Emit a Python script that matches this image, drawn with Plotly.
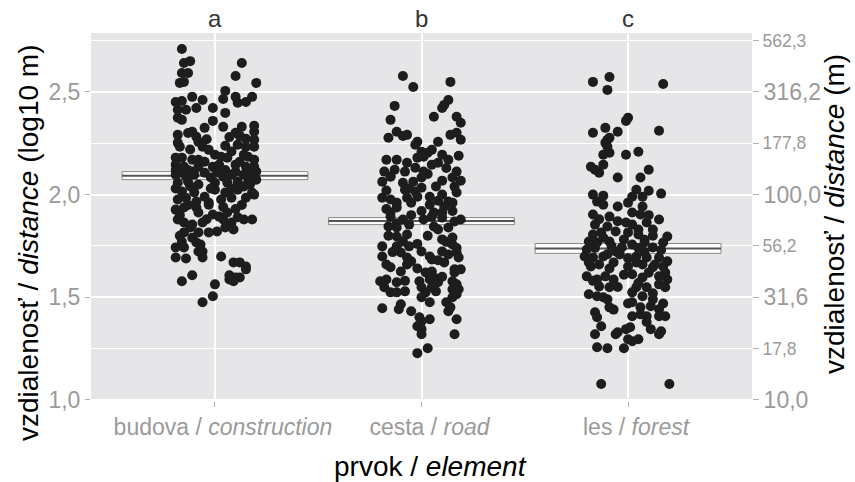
import plotly.graph_objects as go

# ---------------- data ----------------
categories = ["budova / <i>construction</i>", "cesta / <i>road</i>", "les / <i>forest</i>"]
group_letters = ["a", "b", "c"]

# summary crossbars (log10 m)
box_mean = [2.092, 1.871, 1.738]
box_low = [2.073, 1.854, 1.714]
box_high = [2.112, 1.888, 1.762]

left_ticks = [1.0, 1.5, 2.0, 2.5]
left_ticktext = ["1,0", "1,5", "2,0", "2,5"]
right_major = [1.0, 1.5, 2.0, 2.5]
right_minor = [1.25, 1.75, 2.25, 2.75]

# jittered observations: horizontal jitter (category units) and log10 distance
a_jit = [-0.16,-0.15,-0.12,-0.16,-0.13,-0.17,-0.15,0.13,0.10,0.20,
         0.05,0.04,0.10,0.11,0.15,0.18,-0.19,-0.16,-0.11,-0.06,
         -0.18,-0.14,-0.09,-0.01,0.05,-0.18,-0.16,-0.01,-0.05,0.04,
         0.13,0.19,0.19,-0.18,-0.11,-0.09,0.10,0.12,0.15,0.19,
         -0.18,-0.17,-0.08,-0.06,0.05,0.11,0.15,0.19,-0.03,0.00,
         0.03,0.06,-0.19,-0.16,-0.11,-0.08,0.14,0.16,0.19,-0.19,
         -0.15,-0.08,-0.01,0.02,0.10,0.15,0.19,-0.17,-0.11,-0.05,
         0.01,0.10,0.16,0.20,-0.19,-0.14,-0.10,-0.02,0.04,0.08,
         0.14,0.19,-0.18,-0.13,-0.08,0.00,0.06,0.11,0.16,0.20,
         -0.16,-0.10,0.00,0.05,0.11,0.18,-0.18,-0.14,-0.09,-0.03,
         0.03,0.08,0.15,0.19,-0.19,-0.15,-0.09,-0.03,-0.08,-0.01,
         0.02,0.06,-0.18,-0.15,-0.11,-0.06,0.04,0.08,0.14,0.18,
         -0.15,-0.08,-0.03,0.01,0.09,-0.09,-0.07,-0.19,-0.15,-0.08,
         -0.06,-0.19,-0.14,-0.06,0.03,0.09,0.12,0.15,0.15,0.07,
         0.10,0.12,0.07,-0.11,-0.16,0.00,-0.01,-0.06,0.09,
         -0.13,-0.04,0.07,-0.12,0.08,-0.05,0.12,-0.13,0.05,-0.02,
         0.14,-0.12,0.08,-0.05,0.13,-0.13,0.04,0.10,-0.17,-0.04,
         0.11,-0.12,0.05,-0.17,-0.11,-0.16,0.16,0.17,-0.19,-0.19]
a_val = [2.709,2.641,2.650,2.592,2.592,2.544,2.549,2.641,2.578,2.544,
         2.505,2.466,2.476,2.447,2.451,2.476,2.451,2.456,2.476,2.461,
         2.413,2.413,2.422,2.422,2.398,2.374,2.364,2.359,2.325,2.330,
         2.330,2.335,2.306,2.291,2.306,2.282,2.301,2.286,2.272,2.267,
         2.252,2.233,2.257,2.233,2.238,2.243,2.233,2.233,2.218,2.194,
         2.184,2.180,2.180,2.180,2.170,2.170,2.194,2.184,2.170,2.146,
         2.136,2.136,2.136,2.146,2.146,2.136,2.136,2.107,2.112,2.107,
         2.107,2.112,2.107,2.112,2.097,2.087,2.097,2.083,2.087,2.097,
         2.097,2.083,2.058,2.063,2.049,2.058,2.058,2.063,2.058,2.073,
         2.015,2.010,2.024,2.010,2.024,2.010,1.976,1.985,1.966,1.961,
         1.976,1.985,1.985,2.000,1.927,1.937,1.937,1.951,1.913,1.903,
         1.893,1.913,1.879,1.864,1.854,1.864,1.879,1.864,1.879,1.879,
         1.816,1.816,1.816,1.820,1.830,1.767,1.757,1.743,1.743,1.723,
         1.723,1.694,1.689,1.694,1.699,1.670,1.670,1.650,1.636,1.607,
         1.597,1.597,1.587,1.607,1.578,1.563,1.505,1.476,1.578,
         2.300,2.270,2.280,2.220,2.210,2.160,2.160,2.120,2.120,2.030,
         2.040,2.040,2.030,1.990,1.950,1.950,1.940,1.930,1.900,1.880,
         1.890,1.840,1.840,1.800,1.790,1.770,2.100,2.050,2.030,2.120]

b_jit = [-0.09,-0.04,0.14,-0.13,0.11,0.13,0.10,0.06,0.17,0.19,
         -0.15,-0.12,-0.09,-0.07,-0.16,0.14,0.17,0.19,-0.02,-0.03,
         0.08,0.05,0.00,0.03,-0.17,-0.12,-0.07,-0.02,0.01,0.10,
         0.13,0.18,-0.18,-0.13,-0.08,-0.03,0.01,0.05,0.08,0.17,
         -0.19,-0.15,-0.09,-0.04,0.00,0.10,0.15,0.19,-0.08,-0.03,
         0.00,0.16,-0.19,-0.15,-0.12,-0.07,0.04,0.10,0.13,0.15,
         -0.12,-0.05,0.04,0.11,-0.15,0.06,0.10,-0.15,-0.09,0.01,
         0.05,0.10,0.16,0.19,-0.16,-0.12,-0.06,0.06,0.13,-0.12,
         -0.07,-0.09,0.10,0.15,0.15,-0.19,-0.12,-0.06,0.10,0.13,
         0.17,0.00,0.04,-0.19,-0.10,-0.07,-0.05,0.05,0.18,-0.17,
         -0.15,-0.07,0.11,0.16,-0.10,0.02,0.05,0.06,0.16,0.19,
         -0.20,-0.17,-0.12,-0.01,0.04,0.08,0.15,0.17,-0.18,-0.15,
         -0.12,0.00,0.02,0.05,0.07,0.15,0.18,0.17,-0.08,0.15,
         0.00,0.04,-0.19,-0.10,-0.11,0.12,0.14,-0.05,0.13,-0.01,
         0.00,0.04,0.17,-0.02,0.00,0.16,0.00,-0.02,0.03,
         -0.15,0.03,0.12,-0.06,0.07,-0.17,0.17,-0.02,0.08,-0.17,
         0.00,0.15,-0.05,-0.12,0.08,0.03,-0.16,0.12,-0.02,0.17,
         -0.14,0.08,-0.02,0.10,-0.08]
b_val = [2.578,2.524,2.549,2.432,2.437,2.461,2.422,2.379,2.379,2.350,
         2.364,2.306,2.286,2.291,2.277,2.291,2.301,2.267,2.257,2.243,
         2.257,2.218,2.209,2.204,2.170,2.170,2.155,2.180,2.184,2.194,
         2.170,2.189,2.112,2.121,2.112,2.131,2.112,2.146,2.155,2.112,
         2.063,2.087,2.058,2.063,2.083,2.068,2.083,2.068,2.024,2.015,
         2.034,2.039,1.985,1.976,1.961,1.985,1.990,2.000,1.966,1.961,
         1.937,1.961,1.951,1.942,1.913,1.913,1.913,1.893,1.879,1.879,
         1.893,1.888,1.869,1.879,1.845,1.840,1.854,1.845,1.840,1.796,
         1.806,1.772,1.782,1.791,1.757,1.748,1.748,1.748,1.723,1.709,
         1.718,1.723,1.699,1.699,1.718,1.694,1.675,1.684,1.694,1.660,
         1.646,1.660,1.670,1.636,1.626,1.621,1.626,1.597,1.621,1.636,
         1.578,1.587,1.573,1.578,1.587,1.573,1.578,1.563,1.549,1.524,
         1.524,1.549,1.524,1.549,1.529,1.539,1.539,1.515,1.529,1.500,
         1.500,1.476,1.447,1.466,1.442,1.476,1.451,1.432,1.432,1.403,
         1.383,1.393,1.393,1.359,1.345,1.320,1.320,1.228,1.252,
         2.090,2.100,2.130,2.030,2.040,2.020,2.010,1.990,1.970,1.930,
         1.920,1.920,1.900,1.860,1.830,1.800,1.800,1.770,1.760,1.740,
         1.720,1.680,1.640,1.600,1.580]

c_jit = [-0.17,-0.09,-0.10,0.17,0.00,-0.01,-0.17,-0.11,-0.05,0.15,
         -0.10,-0.09,-0.11,-0.10,-0.12,-0.09,-0.01,0.05,-0.18,-0.16,
         -0.14,-0.12,-0.05,0.06,0.10,-0.17,-0.12,0.04,0.10,0.16,
         0.02,0.07,-0.15,-0.12,-0.05,0.00,0.07,-0.17,-0.09,0.02,
         0.06,0.15,-0.16,-0.10,-0.01,0.02,0.09,0.12,-0.17,-0.13,
         -0.06,0.00,0.05,0.19,-0.19,-0.15,-0.09,-0.02,0.02,0.08,
         0.17,-0.20,-0.06,-0.03,0.12,-0.21,-0.17,-0.12,-0.04,0.04,
         0.09,0.15,0.19,-0.18,-0.14,-0.07,0.00,0.07,0.12,0.17,
         -0.20,-0.15,-0.11,-0.07,0.02,0.07,0.15,0.19,-0.14,-0.09,
         0.04,0.09,0.15,0.18,-0.19,-0.15,-0.10,0.02,0.07,0.12,
         -0.09,0.02,0.06,0.11,0.15,-0.16,-0.15,0.02,0.06,0.09,
         0.15,0.18,-0.13,-0.01,0.01,-0.05,-0.06,0.11,0.16,-0.16,
         0.15,0.00,0.05,0.02,-0.15,-0.10,-0.02,-0.13,0.20,
         -0.14,0.10,-0.05,0.05,-0.12,0.12,0.08,-0.08,0.05,0.16,
         -0.16,-0.10,0.08,0.00,-0.19,0.04,0.13,-0.09,0.10,-0.02,
         0.18,-0.17,0.05,-0.05,0.12,-0.12,0.00,0.17,-0.07,0.09]
c_val = [2.549,2.573,2.510,2.539,2.374,2.359,2.301,2.325,2.306,2.311,
         2.267,2.277,2.252,2.233,2.194,2.204,2.194,2.209,2.136,2.121,
         2.107,2.146,2.083,2.083,2.121,2.000,1.995,2.024,2.019,2.005,
         1.990,1.990,1.966,1.951,1.942,1.961,1.942,1.903,1.893,1.913,
         1.903,1.879,1.854,1.845,1.864,1.854,1.864,1.830,1.806,1.816,
         1.820,1.816,1.806,1.796,1.772,1.767,1.772,1.782,1.757,1.767,
         1.767,1.733,1.723,1.743,1.743,1.699,1.694,1.699,1.709,1.699,
         1.694,1.694,1.675,1.650,1.660,1.670,1.650,1.660,1.646,1.650,
         1.602,1.587,1.602,1.587,1.612,1.597,1.602,1.587,1.553,1.549,
         1.549,1.549,1.563,1.549,1.515,1.505,1.490,1.524,1.505,1.490,
         1.451,1.476,1.451,1.456,1.442,1.427,1.403,1.408,1.417,1.408,
         1.408,1.408,1.359,1.345,1.354,1.330,1.320,1.345,1.335,1.320,
         1.320,1.296,1.296,1.286,1.257,1.252,1.252,1.078,1.078,
         1.880,1.900,1.870,1.830,1.790,1.800,1.780,1.750,1.740,1.730,
         1.740,1.710,1.720,1.690,1.670,1.670,1.660,1.640,1.620,1.610,
         1.620,1.580,1.570,1.550,1.520,1.500,1.470,1.470,1.440,1.380]

groups = [(a_jit, a_val), (b_jit, b_val), (c_jit, c_val)]

# ---------------- figure ----------------
FONT = "Liberation Sans, Arial, sans-serif"
TICK_GREY = "#9a9a9a"
positions = [1, 2, 3]
bar_width = 0.9
y_range = [0.995, 2.787]

fig = go.Figure()

# crossbar boxes
fig.add_trace(go.Bar(
    x=positions,
    y=[h - l for h, l in zip(box_high, box_low)],
    base=box_low,
    width=bar_width,
    marker=dict(color="white", line=dict(color="#8a8a8a", width=1)),
    hoverinfo="skip", showlegend=False,
))

# mean lines
mx, my = [], []
for p, m in zip(positions, box_mean):
    mx += [p - bar_width / 2, p + bar_width / 2, None]
    my += [m, m, None]
fig.add_trace(go.Scatter(x=mx, y=my, mode="lines",
                         line=dict(color="#555555", width=2),
                         hoverinfo="skip", showlegend=False))

# jittered points
for p, (jit, val) in zip(positions, groups):
    fig.add_trace(go.Scatter(
        x=[p + j for j in jit], y=val, mode="markers",
        marker=dict(color="#1e1c1d", size=10, line=dict(width=0)),
        showlegend=False,
    ))

# invisible traces to activate right-hand axes
fig.add_trace(go.Scatter(x=positions, y=box_mean, yaxis="y2", mode="markers",
                         marker=dict(opacity=0), hoverinfo="skip", showlegend=False))
fig.add_trace(go.Scatter(x=positions, y=box_mean, yaxis="y3", mode="markers",
                         marker=dict(opacity=0), hoverinfo="skip", showlegend=False))


def fmt(v):
    return f"{10 ** v:.1f}".replace(".", ",")


fig.update_layout(
    width=855, height=482,
    margin=dict(l=91, r=103, t=33, b=81, autoexpand=False),
    paper_bgcolor="white",
    plot_bgcolor="#E6E6E8",
    font=dict(family=FONT, color="black"),
    barmode="overlay",
    xaxis=dict(
        range=[0.4, 3.6], tickvals=positions, ticktext=categories,
        showgrid=True, gridcolor="white", gridwidth=1.5, zeroline=False,
        ticks="outside", ticklen=5, tickcolor="#b0b0b0",
        tickfont=dict(size=23, color=TICK_GREY, family=FONT),
        ticklabelshift=8, automargin=False,
    ),
    yaxis=dict(
        range=y_range, tickvals=left_ticks, ticktext=left_ticktext,
        showgrid=True, gridcolor="white", gridwidth=1.6, zeroline=False,
        ticks="outside", ticklen=5, tickcolor="#b0b0b0",
        tickfont=dict(size=23, color=TICK_GREY, family=FONT),
        minor=dict(tickvals=right_minor, showgrid=True, gridcolor="white",
                   gridwidth=1, ticks=""),
        automargin=False,
    ),
    yaxis2=dict(
        range=y_range, overlaying="y", side="right", anchor="x",
        tickvals=right_major, ticktext=[fmt(v) for v in right_major],
        showgrid=False, zeroline=False,
        ticks="outside", ticklen=6, tickcolor="#b0b0b0",
        tickfont=dict(size=23, color=TICK_GREY, family=FONT),
        automargin=False,
    ),
    yaxis3=dict(
        range=y_range, overlaying="y", side="right", anchor="x",
        tickvals=right_minor, ticktext=[fmt(v) for v in right_minor],
        showgrid=False, zeroline=False,
        ticks="outside", ticklen=6, tickcolor="#b0b0b0",
        tickfont=dict(size=17.5, color=TICK_GREY, family=FONT),
        automargin=False,
    ),
)

annotations = [
    dict(text="vzdialenosť / <i>distance</i> (log10 m)", textangle=-90,
         xref="paper", yref="paper", x=0, y=(401 - 243) / 368, xshift=-63,
         xanchor="center", yanchor="middle", showarrow=False,
         font=dict(size=28, color="black", family=FONT)),
    dict(text="vzdialenosť / <i>distance</i> (m)", textangle=-90,
         xref="paper", yref="paper", x=1, y=(401 - 214) / 368, xshift=82,
         xanchor="center", yanchor="middle", showarrow=False,
         font=dict(size=28, color="black", family=FONT)),
    dict(text="prvok / <i>element</i>", xref="paper", yref="paper",
         x=(430 - 91) / 661, y=0, yshift=-65, xanchor="center", yanchor="middle",
         showarrow=False, font=dict(size=28, color="black", family=FONT)),
]
for p, letter in zip(positions, group_letters):
    annotations.append(dict(text=letter, xref="x", yref="paper", x=p, y=1,
                            yshift=15, xanchor="center", yanchor="middle",
                            showarrow=False,
                            font=dict(size=24, color="#333333", family=FONT)))
fig.update_layout(annotations=annotations)

fig.write_html("out.html",
               config={"displayModeBar": False},
               post_script="document.body.style.margin='0';document.body.style.padding='0';")
